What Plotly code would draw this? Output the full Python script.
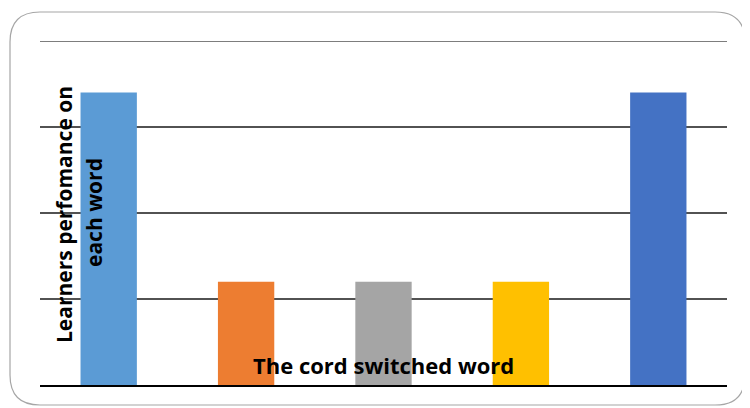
import plotly.graph_objects as go

categories = ["Word 1", "Word 2", "Word 3", "Word 4", "Word 5"]
values = [85, 30, 30, 30, 85]
colors = ["#5B9BD5", "#ED7D31", "#A5A5A5", "#FFC000", "#4472C4"]
y_title_1 = "Learners perfomance on"
y_title_2 = "each word"
x_title = "The cord switched word"

OFF = 8  # page offset of the figure inside the window
W, H = 742, 400
L, R, T, B = 32, 23, 33, 23
pw, ph = W - L - R, H - T - B

def px(x):
    return (x - OFF - L) / pw

def py(y):
    return (H - B - (y - OFF)) / ph

fig = go.Figure(go.Bar(x=categories, y=values, marker=dict(color=colors, line=dict(width=0)),
                       hoverinfo="x+y"))

x0, x1, y0, y1, r = 10, 745, 12, 405, 30
path = (f"M {px(x0+r)},{py(y0)} L {px(x1-r)},{py(y0)} "
        f"Q {px(x1)},{py(y0)} {px(x1)},{py(y0+r)} L {px(x1)},{py(y1-r)} "
        f"Q {px(x1)},{py(y1)} {px(x1-r)},{py(y1)} L {px(x0+r)},{py(y1)} "
        f"Q {px(x0)},{py(y1)} {px(x0)},{py(y1-r)} L {px(x0)},{py(y0+r)} "
        f"Q {px(x0)},{py(y0)} {px(x0+r)},{py(y0)} Z")

grid_col = "#525252"

fig.update_layout(
    width=W, height=H,
    margin=dict(l=L, r=R, t=T, b=B),
    paper_bgcolor="white", plot_bgcolor="white",
    bargap=0.59,
    showlegend=False,
    xaxis=dict(showticklabels=False, ticks="", showgrid=False, showline=True,
               linecolor="#000000", linewidth=1.5, zeroline=False),
    yaxis=dict(range=[0, 100], dtick=25, showticklabels=False, ticks="",
               showgrid=True, gridcolor=grid_col, gridwidth=1.5, zeroline=False,
               showline=False),
    shapes=[dict(type="path", path=path, xref="paper", yref="paper",
                 line=dict(color="#A6A6A6", width=1.2), layer="below"),
            dict(type="line", xref="paper", yref="y", x0=0, x1=1, y0=100, y1=100,
                 line=dict(color=grid_col, width=1.5))],
    annotations=[
        dict(text=f"<b>{y_title_1}</b>", textangle=-90, xref="paper", yref="paper",
             x=px(64), y=py(215), xanchor="center", yanchor="middle", showarrow=False,
             font=dict(family="Open Sans", size=21, color="black")),
        dict(text=f"<b>{y_title_2}</b>", textangle=-90, xref="paper", yref="paper",
             x=px(94), y=py(213), xanchor="center", yanchor="middle", showarrow=False,
             font=dict(family="Open Sans", size=21, color="black")),
        dict(text=f"<b>{x_title}</b>", xref="paper", yref="paper",
             x=px(383), y=py(365), xanchor="center", yanchor="middle", showarrow=False,
             font=dict(family="Open Sans", size=22, color="black")),
    ],
)

fig.write_html("out.html")
